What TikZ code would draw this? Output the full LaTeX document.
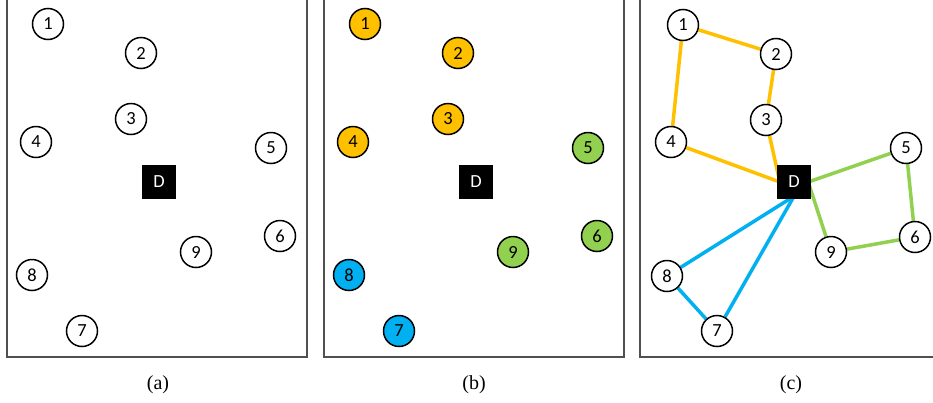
\documentclass[tikz,border=0pt]{standalone}
\usepackage{fontspec}
\setmainfont{Liberation Serif}
\newfontfamily\calib{Carlito}
\definecolor{myorange}{HTML}{FFC000}
\definecolor{mygreen}{HTML}{92D050}
\definecolor{myblue}{HTML}{00B0F0}
\definecolor{framegray}{HTML}{505050}
\pgfdeclarelayer{bglayer}
\pgfdeclarelayer{edgelayer}
\pgfsetlayers{bglayer,edgelayer,main}
\tikzset{
  nd/.style={circle, draw=black, line width=1.5pt, fill=white, minimum size=31pt, inner sep=0pt, font=\calib\fontsize{18.5}{18.5}\selectfont},
  ndo/.style={nd, fill=myorange},
  ndg/.style={nd, fill=mygreen},
  ndb/.style={nd, fill=myblue},
  dep/.style={rectangle, fill=black, minimum size=34pt, inner sep=0pt, text=white, font=\calib\fontsize{18.5}{18.5}\selectfont},
  frame/.style={draw=framegray, line width=1.2pt},
  captext/.style={font=\fontsize{20}{20}\selectfont},
  eo/.style={draw=myorange, line width=3.5pt},
  eg/.style={draw=mygreen, line width=3.5pt},
  eb/.style={draw=myblue, line width=3.5pt},
}
\begin{document}
\begin{tikzpicture}[x=1pt,y=-1pt]
\useasboundingbox (0,0) rectangle (933,402);
\clip (0,0) rectangle (933,402);
\begin{pgfonlayer}{bglayer}
\fill[white] (0,0) rectangle (933,402);
\end{pgfonlayer}
% frames
\draw[frame] (7,-10) rectangle (307,357);
\draw[frame] (324,-10) rectangle (624,357);
\draw[frame] (640,-10) rectangle (940,357);
% panel (a)
\node[nd] (a1) at (48,24) {1};
\node[nd] (a2) at (141,53) {2};
\node[nd] (a3) at (131,119) {3};
\node[nd] (a4) at (36,142) {4};
\node[nd] (a5) at (271,148) {5};
\node[nd] (a6) at (280,236) {6};
\node[nd] (a9) at (196,252) {9};
\node[nd] (a8) at (32,275) {8};
\node[nd] (a7) at (82,331) {7};
\node[dep] (aD) at (159,182) {D};
\node[captext] (acap) at (158,385) {(a)};
% panel (b)
\node[ndo] (b1) at (365,24) {1};
\node[ndo] (b2) at (458,53) {2};
\node[ndo] (b3) at (448,119) {3};
\node[ndo] (b4) at (353,142) {4};
\node[ndg] (b5) at (588,148) {5};
\node[ndg] (b6) at (597,236) {6};
\node[ndg] (b9) at (513,252) {9};
\node[ndb] (b8) at (349,275) {8};
\node[ndb] (b7) at (399,331) {7};
\node[dep] (bD) at (476,182) {D};
\node[captext] (bcap) at (474,385) {(b)};
% panel (c)
\node[nd] (c1) at (683,25) {1};
\node[nd] (c2) at (776,54) {2};
\node[nd] (c3) at (766,120) {3};
\node[nd] (c4) at (671,142) {4};
\node[nd] (c5) at (906,148) {5};
\node[nd] (c6) at (915,237) {6};
\node[nd] (c9) at (831,252) {9};
\node[nd] (c8) at (667,276) {8};
\node[nd] (c7) at (717,331) {7};
\node[dep] (cD) at (794,182) {D};
\node[captext] (ccap) at (791,385) {(c)};
% edges
\begin{pgfonlayer}{edgelayer}
\draw[eo] (c1) -- (c2);
\draw[eo] (c2) -- (c3);
\draw[eo] (c3) -- ([xshift=3pt]cD.west);
\draw[eo] (c1) -- (c4);
\draw[eo] (c4) -- ([xshift=3pt]cD.west);
\draw[eg] ([xshift=-3pt]cD.east) -- (c5);
\draw[eg] (c5) -- (c6);
\draw[eg] (c6) -- (c9);
\draw[eg] ([xshift=-3pt]cD.east) -- (c9);
\draw[eb] ([yshift=3pt]cD.south) -- (c8);
\draw[eb] (c8) -- (c7);
\draw[eb] ([yshift=3pt]cD.south) -- (c7);
\end{pgfonlayer}
\end{tikzpicture}
\end{document}
